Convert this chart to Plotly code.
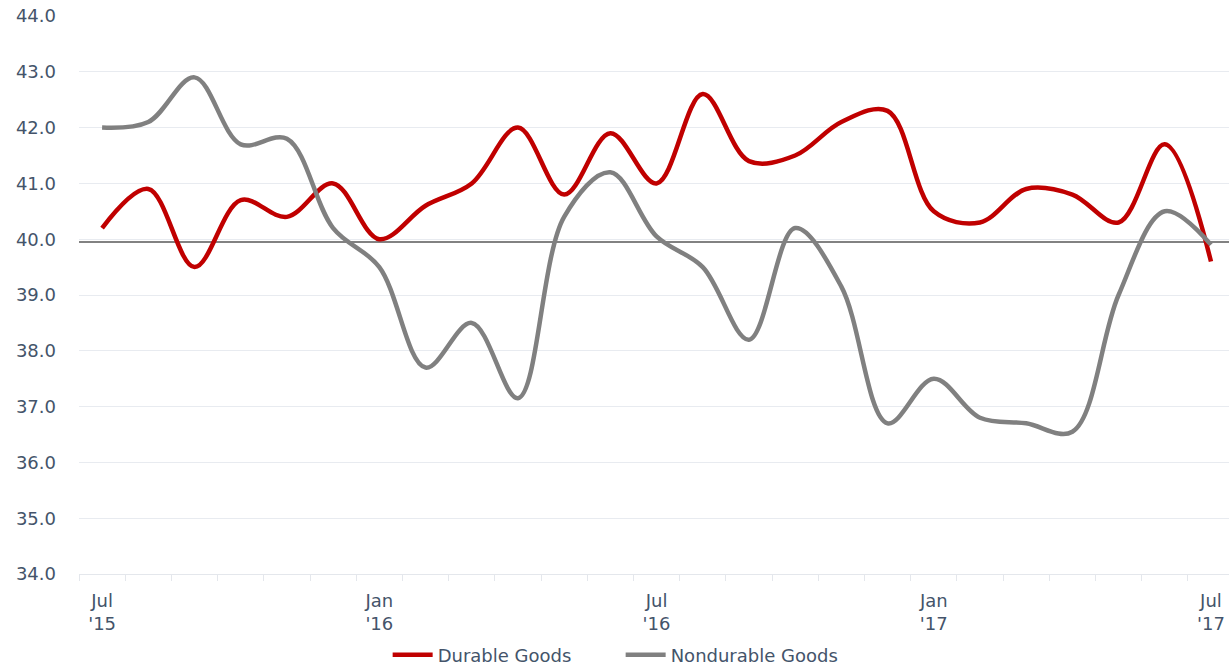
import plotly.graph_objects as go

months = ["Jul<br>'15", "Aug", "Sep", "Oct", "Nov", "Dec",
          "Jan<br>'16", "Feb", "Mar", "Apr", "May", "Jun",
          "Jul<br>'16", "Aug", "Sep", "Oct", "Nov", "Dec",
          "Jan<br>'17", "Feb", "Mar", "Apr", "May", "Jun",
          "Jul<br>'17"]
durable = [40.2, 40.9, 39.5, 40.7, 40.4, 41.0,
           40.0, 40.6, 41.0, 42.0, 40.8, 41.9,
           41.0, 42.6, 41.4, 41.5, 42.1, 42.3,
           40.5, 40.3, 40.9, 40.8, 40.3, 41.7,
           39.6]
nondurable = [42.0, 42.1, 42.9, 41.7, 41.8, 40.2,
              39.5, 37.7, 38.5, 37.15, 40.4, 41.2,
              40.05, 39.5, 38.2, 40.2, 39.15, 36.7,
              37.5, 36.8, 36.7, 36.55, 39.0, 40.5,
              39.9]
label_idx = [0, 6, 12, 18, 24]
ref_level = 39.95

x = list(range(len(months)))
font = "DejaVu Sans"
txt = "#44546a"

fig = go.Figure()
fig.add_trace(go.Scatter(x=x, y=durable, name="Durable Goods", mode="lines",
                         line=dict(color="#c00000", width=4.5, shape="spline", smoothing=1)))
fig.add_trace(go.Scatter(x=x, y=nondurable, name="Nondurable Goods", mode="lines",
                         line=dict(color="#808080", width=4.5, shape="spline", smoothing=1)))

fig.add_hline(y=ref_level, line=dict(color="#595959", width=1.5), layer="below")

fig.update_layout(
    width=1229, height=667,
    margin=dict(l=79, r=0, t=16, b=93, autoexpand=False),
    plot_bgcolor="white", paper_bgcolor="white",
    font=dict(family=font, size=18, color=txt),
    legend=dict(orientation="h", x=0.471, xanchor="center", y=-0.112, yanchor="top",
                font=dict(family=font, size=18, color=txt), itemwidth=40,
                entrywidth=178),
    showlegend=True,
)
fig.update_xaxes(
    range=[-0.5, 24.39], automargin=False,
    tickmode="array", tickvals=label_idx, ticktext=[months[i] for i in label_idx],
    ticks="", showgrid=False, zeroline=False, ticklabelstandoff=10,
    showline=True, linecolor="#e4e7ec", linewidth=1,
    minor=dict(tickmode="linear", tick0=-0.5, dtick=1, ticks="outside",
               ticklen=6, tickcolor="#e4e7ec", showgrid=False),
    tickfont=dict(family=font, size=18, color=txt),
)
fig.update_yaxes(
    range=[34, 44], dtick=1, tickformat=".1f", automargin=False,
    showgrid=True, gridcolor="#e8ebf0", gridwidth=1, zeroline=False,
    ticks="", ticklabelstandoff=22,
    tickfont=dict(family=font, size=18, color=txt),
)

# the page body has a default 8px margin; drop it so the figure fills the window
fig.write_html("out.html", config={"displayModeBar": False},
               post_script="document.body.style.margin='0';")
